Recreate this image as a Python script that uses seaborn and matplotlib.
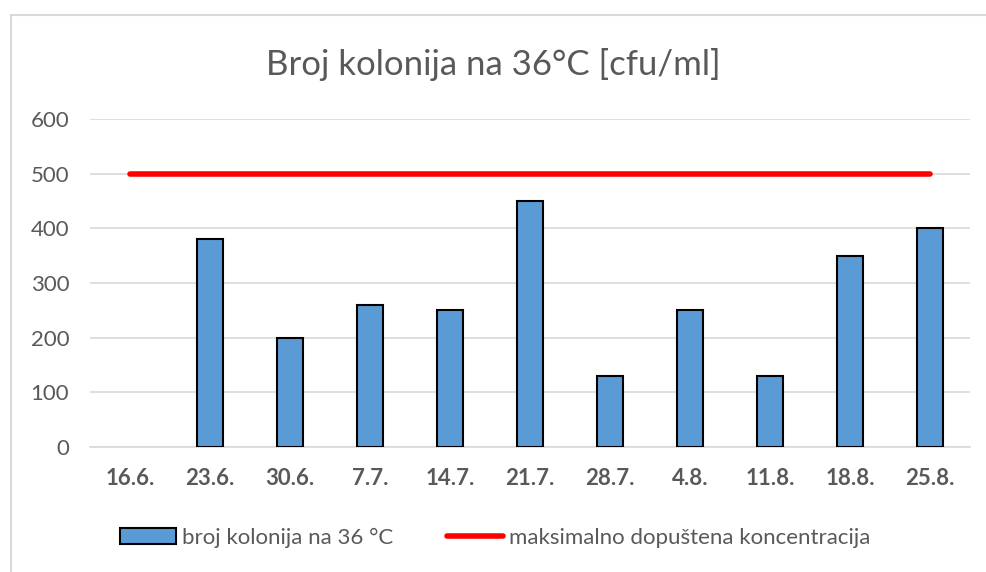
import pandas as pd
import matplotlib.pyplot as plt
import seaborn as sns
from matplotlib.patches import Patch
from matplotlib.lines import Line2D

dates = ['16.6.', '23.6.', '30.6.', '7.7.', '14.7.', '21.7.', '28.7.', '4.8.', '11.8.', '18.8.', '25.8.']
colonies = [0, 380, 200, 260, 250, 450, 130, 250, 130, 350, 400]
max_allowed = [500] * len(dates)

df = pd.DataFrame({'datum': dates, 'kolonije': colonies, 'max': max_allowed})

sns.set_style('white')
plt.rcParams['font.family'] = ['Lato', 'DejaVu Sans']

fig = plt.figure(figsize=(9.87, 5.72), dpi=100)
ax = fig.add_axes([0.0912, 0.2185, 0.8918, 0.5735])

sns.barplot(data=df, x='datum', y='kolonije', color='#5B9BD5', width=0.33,
            edgecolor='black', linewidth=1.5, saturation=1, ax=ax, zorder=3)
# zero-height bars show no outline
for p in ax.patches:
    if p.get_height() == 0:
        p.set_linewidth(0)
sns.lineplot(data=df, x='datum', y='max', color='#FF0000', linewidth=4,
             solid_capstyle='round', ax=ax, zorder=4)

ax.set_ylim(0, 600)
ax.set_xlim(-0.5, len(dates) - 0.5)
ax.set_yticks(range(0, 601, 100))
ax.grid(axis='y', color='#D9D9D9', linewidth=1.2, zorder=0)
for s in ['top', 'right', 'left']:
    ax.spines[s].set_visible(False)
ax.spines['bottom'].set_color('#D9D9D9')
ax.spines['bottom'].set_linewidth(1.2)
ax.set_xlabel('')
ax.set_ylabel('')
ax.tick_params(axis='y', labelsize=16, labelcolor='#595959', length=0, pad=15)
ax.tick_params(axis='x', labelsize=16, labelcolor='#595959', length=0, pad=15)
for lbl in ax.get_xticklabels():
    lbl.set_fontweight('bold')

fig.text(0.5, 0.887, 'Broj kolonija na 36°C [cfu/ml]', ha='center', va='center',
         fontsize=25, color='#595959')

handles = [Patch(facecolor='#5B9BD5', edgecolor='black', linewidth=1.5),
           Line2D([0], [0], color='#FF0000', linewidth=4, solid_capstyle='round')]
fig.legend(handles, ['broj kolonija na 36 °C', 'maksimalno dopuštena koncentracija'],
           loc='center', bbox_to_anchor=(0.502, 0.06), ncol=2, frameon=False,
           fontsize=16, labelcolor='#595959', handlelength=2.5, handletextpad=0.3,
           columnspacing=2.4)

# chart border
fig.add_artist(plt.Rectangle((0.011, -0.1), 1.2, 1.073, transform=fig.transFigure,
                             fill=False, edgecolor='#D9D9D9', linewidth=1.5))

plt.savefig('out.png', dpi=100)
